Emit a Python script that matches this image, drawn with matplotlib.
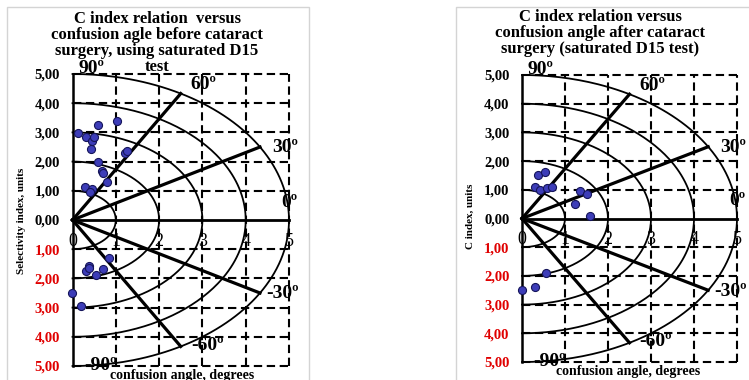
import numpy as np
import matplotlib.pyplot as plt
from matplotlib.patches import Rectangle

plt.rcParams['font.family'] = ['Liberation Serif', 'DejaVu Serif']

# selectivity / C index vs confusion angle (x, y in plot units)
before_x = [0.13, 0.60, 1.03, 0.31, 0.44, 0.50, 0.42, 1.21, 1.25, 0.60, 0.67, 0.71,
            0.80, 0.29, 0.44, 0.40, 0.85, 0.39, 0.31, 0.37, 0.70, 0.54, -0.02, 0.20]
before_y = [2.99, 3.25, 3.38, 2.84, 2.71, 2.84, 2.43, 2.31, 2.37, 1.97, 1.68, 1.60,
            1.31, 1.12, 1.06, 0.95, -1.31, -1.59, -1.76, -1.65, -1.67, -1.88, -2.49, -2.95]

after_x = [0.38, 0.53, 0.30, 0.42, 0.57, 0.69, 1.35, 1.50, 1.23, 1.58, 0.55, 0.30, -0.01]
after_y = [1.53, 1.61, 1.09, 1.00, 1.07, 1.11, 0.95, 0.86, 0.51, 0.07, -1.89, -2.39, -2.48]

radii = [1, 2, 3, 4, 5]
ray_angles = [60, 30, -30, -60]
ytick_vals = [5, 4, 3, 2, 1, 0, -1, -2, -3, -4, -5]
ytick_labels = ['5,00', '4,00', '3,00', '2,00', '1,00', '0,00',
                '1,00', '2,00', '3,00', '4,00', '5,00']
xtick_vals = [0, 1, 2, 3, 4, 5]
angle_labels = ['90º', '60º', '30º', '0º', '-30º', '-60º', '-90º']
angle_pos = [(0.44, 5.19), (3.02, 4.64), (4.91, 2.49), (5.0, 0.61),
             (4.86, -2.53), (3.11, -4.3), (0.64, -4.98)]

title_before = ['C index relation  versus', 'confusion agle before cataract',
                'surgery, using saturated D15', 'test']
title_after = ['C index relation versus', 'confusion angle after cataract',
               'surgery (saturated D15 test)']

W, H = 749, 380
fig = plt.figure(figsize=(W / 100, H / 100), dpi=100)


def fx(px):
    return px / W


def fy(py):
    return 1 - py / H


# light grey chart borders
for x0, x1 in [(7, 309), (456, 760)]:
    fig.patches.append(Rectangle((fx(x0), fy(390)), fx(x1 - x0), (390 - 7) / H,
                                 transform=fig.transFigure, fill=False,
                                 edgecolor='#d4d4d4', linewidth=1.0))


def draw_panel(box, xs, ys, title_lines, title_xy, ylabel, ylabel_xy, xlabel_xy):
    ax = fig.add_axes(box)
    ax.set_xlim(0, 5)
    ax.set_ylim(-5, 5)
    for s in ax.spines.values():
        s.set_visible(False)
    ax.set_xticks([])
    ax.set_yticks(ytick_vals)
    ax.set_yticklabels(ytick_labels, fontsize=10.5, fontweight='bold')
    ax.tick_params(axis='y', length=0, pad=9)
    for lab, v in zip(ax.get_yticklabels(), ytick_vals):
        lab.set_color('#e00000' if v < 0 else 'black')

    # dashed grid
    for v in xtick_vals[1:]:
        ax.plot([v, v], [-5, 5], color='black', lw=1.5, dashes=(4, 2.2), zorder=2, clip_on=False)
    for v in ytick_vals:
        if v != 0:
            ax.plot([0, 5], [v, v], color='black', lw=1.5, dashes=(4, 2.2), zorder=2, clip_on=False)

    # semicircles
    th = np.radians(np.linspace(-90, 90, 200))
    for r in radii:
        ax.plot(r * np.cos(th), r * np.sin(th), color='black', lw=1.3, zorder=3, clip_on=False)

    # rays
    for a in ray_angles:
        t = np.radians(a)
        ax.plot([0, 5 * np.cos(t)], [0, 5 * np.sin(t)], color='black', lw=2.3, zorder=3, clip_on=False)
    ax.plot([0, 5], [0, 0], color='black', lw=2.0, zorder=3, clip_on=False)
    ax.plot([0, 0], [-5, 5], color='black', lw=1.8, zorder=3, clip_on=False)

    for v in xtick_vals:
        ax.text(v, -0.72, str(v), ha='center', va='center', fontsize=13, zorder=1)
    for lab, (x, y) in zip(angle_labels, angle_pos):
        ax.text(x, y, lab, ha='center', va='center', fontsize=14, fontweight='bold',
                zorder=1, clip_on=False)

    ax.plot(xs, ys, 'o', ms=5.8, mfc='#3d3db8', mec='#15155a', mew=0.8, zorder=4, clip_on=False)

    # title, one line at a time
    for i, line in enumerate(title_lines):
        fig.text(fx(title_xy[0]), fy(title_xy[1] + 16 * i), line, ha='center', va='center',
                 fontsize=12, fontweight='bold')
    fig.text(fx(ylabel_xy[0]), fy(ylabel_xy[1]), ylabel, ha='center', va='center',
             rotation=90, fontsize=8, fontweight='bold')
    fig.text(fx(xlabel_xy[0]), fy(xlabel_xy[1]), 'confusion angle, degrees',
             ha='center', va='center', fontsize=10, fontweight='bold')
    return ax


draw_panel([fx(72.5), fy(366), fx(289 - 72.5), (366 - 74) / H], before_x, before_y,
           title_before, (157, 19), 'Selectivity index, units', (22, 221), (182, 375))
draw_panel([fx(522), fy(362), fx(737 - 522), (362 - 75) / H], after_x, after_y,
           title_after, (600, 17), 'C index, units', (470, 216), (628, 371))

fig.savefig('out.png', dpi=100)
